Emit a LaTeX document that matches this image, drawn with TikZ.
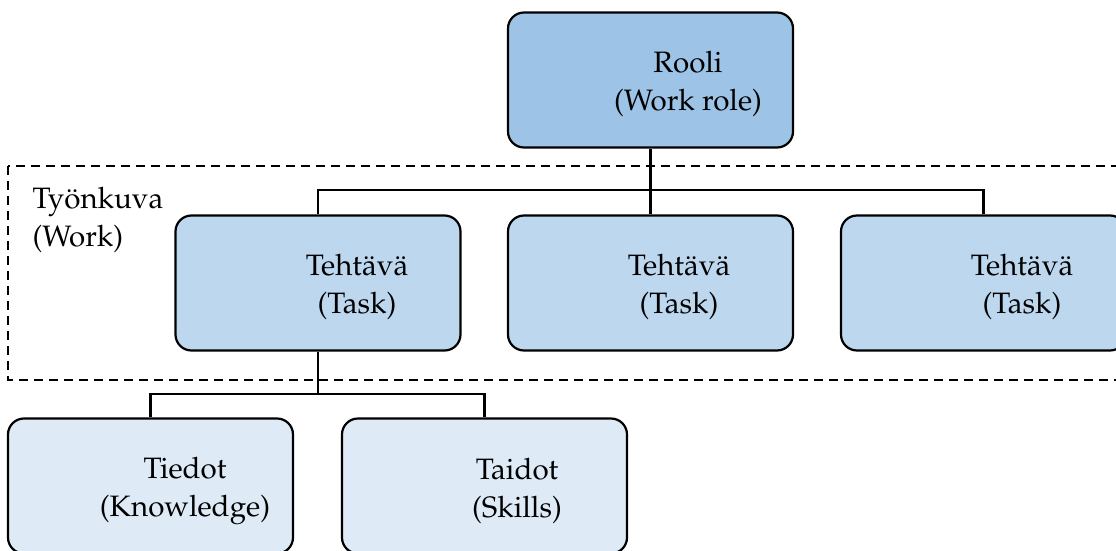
\documentclass[tikz,border=0pt]{standalone}
\usepackage[T1]{fontenc}
\usepackage{mathpazo}
\usetikzlibrary{calc}
\definecolor{roleblue}{HTML}{9DC3E6}
\definecolor{taskblue}{HTML}{BDD7EE}
\definecolor{leafblue}{HTML}{DEEBF7}
\tikzset{
  box/.style={draw=black, line width=2.2pt, rounded corners=16pt,
    minimum width=285pt, minimum height=135pt, inner sep=0pt},
  lbl/.style={align=center, font=\fontsize{29.5}{38}\selectfont},
  link/.style={draw=black, line width=2.4pt},
}
\begin{document}
\begin{tikzpicture}[x=1pt,y=-1pt]
  \useasboundingbox (0,0) rectangle (1116,551);
  \clip (0,0) rectangle (1116,551);

  % work area frame
  \draw[line width=2pt, dash pattern=on 9pt off 6pt] (8,166) rectangle (1130,380);
  \node[lbl, align=left, anchor=west] (work) at (29,220) {Ty\"onkuva\\(Work)};

  % role
  \node[box, fill=roleblue] (role) at (650.5,80) {};
  \node[lbl] (roleT) at (688,84) {Rooli\\(Work role)};

  % tasks
  \node[box, fill=taskblue] (t1) at (318,283) {};
  \node[box, fill=taskblue] (t2) at (650.5,283) {};
  \node[box, fill=taskblue] (t3) at (983.5,283) {};
  \node[lbl] (t1T) at (357,287) {Teht\"av\"a\\(Task)};
  \node[lbl] (t2T) at (679,287) {Teht\"av\"a\\(Task)};
  \node[lbl] (t3T) at (1022,287) {Teht\"av\"a\\(Task)};

  % knowledge and skills
  \node[box, fill=leafblue] (kn) at (150.5,486) {};
  \node[box, fill=leafblue] (sk) at (484.5,486) {};
  \node[lbl] (knT) at (185,491) {Tiedot\\(Knowledge)};
  \node[lbl] (skT) at (517,491) {Taidot\\(Skills)};

  % connectors
  \coordinate (bus) at (0,190);
  \coordinate (bus2) at (0,394);
  \draw[link] (role.south) -- (t2.north);
  \draw[link] (t1.north) |- (t3.north |- bus) -- (t3.north);
  \draw[link] (t1.south) -- (t1.south |- bus2);
  \draw[link] (kn.north) |- (sk.north |- bus2) -- (sk.north);
\end{tikzpicture}
\end{document}
